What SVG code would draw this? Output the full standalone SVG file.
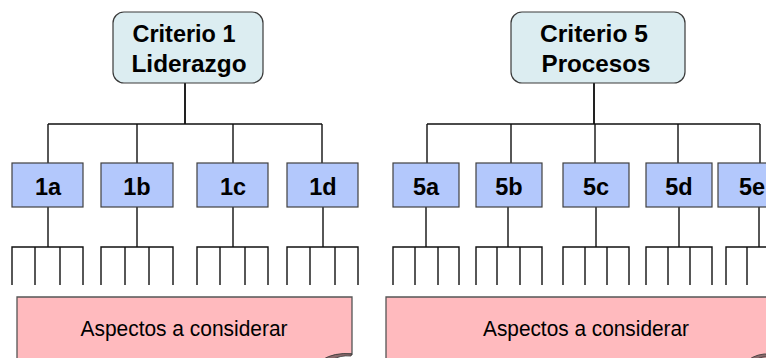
<svg xmlns="http://www.w3.org/2000/svg" width="766" height="358" viewBox="0 0 766 358">
  <style>
    .crit { fill: #dcedf1; stroke: #3a3a3a; stroke-width: 1.2; }
    .sub { fill: #b3c8fc; stroke: #404040; stroke-width: 1.2; }
    .note { fill: #ffbabe; stroke: #555; stroke-width: 1.3; }
    .fold { fill: #8a6a6c; stroke: #333; stroke-width: 0.8; }
    .wire { fill: none; stroke: #111; stroke-width: 1.4; }
    .stem { fill: none; stroke: #222; stroke-width: 2; }
    .title { font-family: "Liberation Sans", Arial, sans-serif; font-weight: bold; font-size: 24px; fill: #000; text-anchor: middle; }
    .lbl { font-family: "Liberation Sans", Arial, sans-serif; font-weight: bold; font-size: 23.5px; fill: #000; text-anchor: middle; }
    .txt { font-family: "Liberation Sans", Arial, sans-serif; font-size: 22px; fill: #000; text-anchor: middle; }
  </style>

  <!-- connectors -->
  <g id="connectors">
    <!-- criterion stems and branch bars -->
    <path class="stem" d="M185,83 V124 M594,83 V124"/>
    <path class="wire" d="M48,124 H322 M48,124 V163 M137,124 V163 M233,124 V163 M322,124 V163"/>
    <path class="wire" d="M427,124 H760 M427,124 V163 M511,124 V163 M595,124 V163 M678,124 V163 M760,124 V163"/>
    <!-- sub-criterion stems -->
    <path class="wire" d="M48,207 V247 M137,207 V247 M233,207 V247 M323,207 V247"/>
    <path class="wire" d="M426,207 V247 M508,207 V247 M596,207 V247 M679,207 V247 M759,207 V247"/>
    <!-- aspect combs -->
    <path class="wire" d="M12,285 V247 H83 V285 M35,247 V285 M60,247 V285"/>
    <path class="wire" d="M101,285 V247 H173 V285 M125,247 V285 M149,247 V285"/>
    <path class="wire" d="M197,285 V247 H268 V285 M220,247 V285 M245,247 V285"/>
    <path class="wire" d="M287,285 V247 H358 V285 M310,247 V285 M335,247 V285"/>
    <path class="wire" d="M393,285 V247 H459 V285 M415,247 V285 M438,247 V285"/>
    <path class="wire" d="M476,285 V247 H542 V285 M497,247 V285 M520,247 V285"/>
    <path class="wire" d="M563,285 V247 H629 V285 M585,247 V285 M607,247 V285"/>
    <path class="wire" d="M646,285 V247 H712 V285 M668,247 V285 M690,247 V285"/>
    <path class="wire" d="M726,285 V247 H770 M747,247 V285"/>
  </g>

  <!-- criteria -->
  <g id="criterio1">
    <rect class="crit" x="113" y="12" width="150" height="71" rx="11"/>
    <text class="title" x="184" y="42" textLength="103" lengthAdjust="spacingAndGlyphs">Criterio 1</text>
    <text class="title" x="189" y="72" textLength="115" lengthAdjust="spacingAndGlyphs">Liderazgo</text>
  </g>
  <g id="criterio5">
    <rect class="crit" x="511" y="12" width="174" height="71" rx="11"/>
    <text class="title" x="594" y="42" textLength="108" lengthAdjust="spacingAndGlyphs">Criterio 5</text>
    <text class="title" x="596" y="72" textLength="109" lengthAdjust="spacingAndGlyphs">Procesos</text>
  </g>

  <!-- sub-criteria -->
  <g id="sub1a"><rect class="sub" x="12" y="163" width="71" height="44"/><text class="lbl" x="48" y="195">1a</text></g>
  <g id="sub1b"><rect class="sub" x="101" y="163" width="72" height="44"/><text class="lbl" x="137" y="195">1b</text></g>
  <g id="sub1c"><rect class="sub" x="197" y="163" width="71" height="44"/><text class="lbl" x="233" y="195">1c</text></g>
  <g id="sub1d"><rect class="sub" x="287" y="163" width="71" height="44"/><text class="lbl" x="323" y="195">1d</text></g>
  <g id="sub5a"><rect class="sub" x="393" y="163" width="66" height="44"/><text class="lbl" x="426" y="195">5a</text></g>
  <g id="sub5b"><rect class="sub" x="476" y="163" width="66" height="44"/><text class="lbl" x="509" y="195">5b</text></g>
  <g id="sub5c"><rect class="sub" x="563" y="163" width="66" height="44"/><text class="lbl" x="596" y="195">5c</text></g>
  <g id="sub5d"><rect class="sub" x="646" y="163" width="66" height="44"/><text class="lbl" x="679" y="195">5d</text></g>
  <g id="sub5e"><rect class="sub" x="718" y="163" width="70" height="44"/><text class="lbl" x="752" y="195">5e</text></g>

  <!-- aspect notes with curled corner -->
  <g id="aspectos1">
    <path class="note" d="M17,360 V297 H352 V354 Q338,353 322,360 Z"/>
    <path class="fold" d="M322,360 Q334,352 352,354 L351,356 Q340,355 332,360 Z"/>
    <text class="txt" x="184" y="336" textLength="207" lengthAdjust="spacingAndGlyphs">Aspectos a considerar</text>
  </g>
  <g id="aspectos5">
    <path class="note" d="M386,360 V297 H770 V360 Z"/>
    <path class="fold" d="M748,360 Q758,353 770,354 L770,357 Q761,356 756,360 Z"/>
    <text class="txt" x="586" y="336" textLength="206" lengthAdjust="spacingAndGlyphs">Aspectos a considerar</text>
  </g>
</svg>
